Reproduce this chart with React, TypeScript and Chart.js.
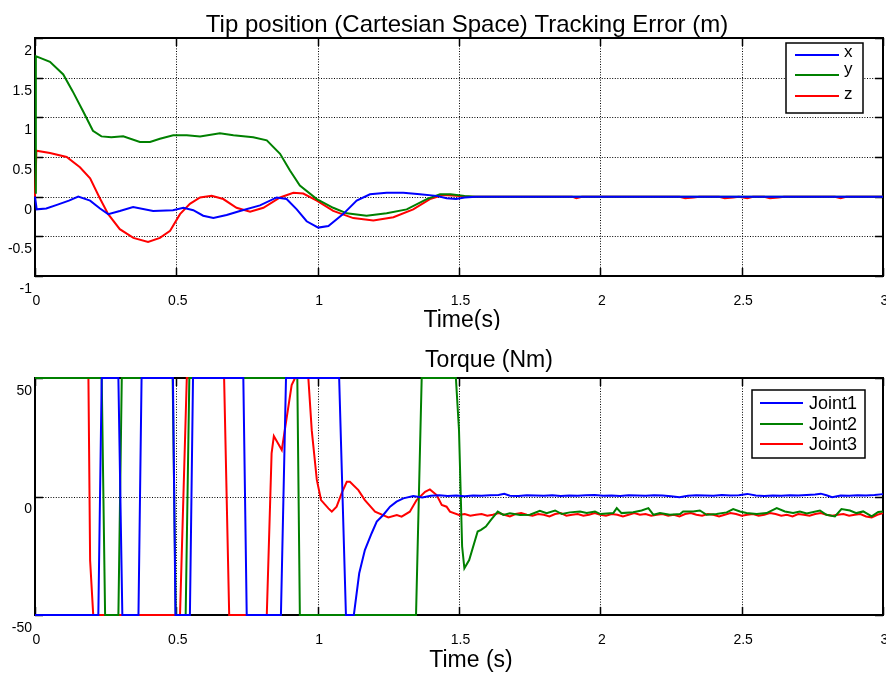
import React, { useEffect, useRef } from 'react';
import { Chart, registerables } from 'chart.js';

Chart.register(...registerables);

const FONT = '"Liberation Sans", Arial, Helvetica, sans-serif';

// ---------- Top plot: tip position tracking error (m) ----------
const tipXTime = [0, 0.006, 0.04, 0.08, 0.12, 0.153, 0.195, 0.23, 0.259, 0.3, 0.347, 0.418, 0.488, 0.525, 0.56, 0.595, 0.631, 0.678, 0.725, 0.796, 0.855, 0.89, 0.926, 0.961, 1.002, 1.038, 1.09, 1.138, 1.185, 1.244, 1.303, 1.362, 1.42, 1.456, 1.49, 1.52, 1.56, 3.0];
const tipXValues = [0.0, -0.16, -0.15, -0.1, -0.05, 0.0, -0.05, -0.15, -0.22, -0.18, -0.13, -0.18, -0.17, -0.14, -0.17, -0.24, -0.27, -0.23, -0.18, -0.11, -0.01, -0.03, -0.16, -0.31, -0.39, -0.37, -0.22, -0.05, 0.03, 0.05, 0.05, 0.03, 0.01, -0.02, -0.03, -0.01, 0.0, 0.0];

const tipYTime = [0, 0.003, 0.018, 0.053, 0.1, 0.133, 0.171, 0.205, 0.235, 0.27, 0.312, 0.371, 0.407, 0.442, 0.489, 0.537, 0.584, 0.654, 0.702, 0.772, 0.82, 0.867, 0.902, 0.937, 0.997, 1.055, 1.103, 1.173, 1.244, 1.315, 1.386, 1.433, 1.47, 1.52, 1.56, 3.0];
const tipYValues = [0.05, 1.77, 1.75, 1.7, 1.54, 1.33, 1.07, 0.83, 0.76, 0.75, 0.76, 0.69, 0.69, 0.73, 0.775, 0.775, 0.76, 0.8, 0.775, 0.75, 0.71, 0.54, 0.33, 0.14, -0.03, -0.14, -0.21, -0.24, -0.21, -0.16, -0.03, 0.03, 0.03, 0.01, 0.0, 0.0];

const tipZTime = [0, 0.005, 0.053, 0.112, 0.159, 0.195, 0.228, 0.259, 0.3, 0.348, 0.4, 0.442, 0.478, 0.513, 0.548, 0.584, 0.625, 0.666, 0.713, 0.761, 0.808, 0.867, 0.914, 0.949, 0.997, 1.055, 1.126, 1.197, 1.268, 1.338, 1.397, 1.444, 1.49, 1.53, 1.9, 1.915, 1.935, 2.28, 2.3, 2.33, 2.35, 2.42, 2.44, 2.47, 2.49, 2.52, 2.54, 2.58, 2.6, 2.63, 2.65, 2.83, 2.85, 2.87, 3.0];
const tipZValues = [0.0, 0.58, 0.55, 0.5, 0.37, 0.23, -0.01, -0.22, -0.41, -0.52, -0.57, -0.52, -0.43, -0.22, -0.09, -0.01, 0.01, -0.03, -0.14, -0.19, -0.14, -0.01, 0.05, 0.04, -0.05, -0.18, -0.27, -0.3, -0.26, -0.16, -0.03, 0.02, 0.01, 0.0, 0.0, -0.02, 0.0, 0.0, -0.02, -0.01, 0.0, 0.0, -0.02, -0.01, 0.0, -0.02, 0.0, 0.0, -0.02, -0.01, 0.0, 0.0, -0.02, 0.0, 0.0];

// ---------- Bottom plot: joint torques (Nm) ----------
const joint1Time = [0, 0.224, 0.236, 0.295, 0.309, 0.366, 0.377, 0.488, 0.497, 0.548, 0.559, 0.737, 0.749, 0.87, 0.888, 1.076, 1.1, 1.128, 1.147, 1.167, 1.191, 1.209, 1.232, 1.256, 1.279, 1.303, 1.338, 1.37, 1.4, 1.43, 1.46, 1.49, 1.52, 1.55, 1.58, 1.61, 1.64, 1.66, 1.68, 1.71, 1.74, 1.77, 1.8, 1.83, 1.86, 1.89, 1.92, 1.95, 1.98, 2.01, 2.04, 2.07, 2.1, 2.13, 2.16, 2.19, 2.22, 2.25, 2.28, 2.31, 2.34, 2.37, 2.4, 2.43, 2.46, 2.49, 2.52, 2.55, 2.58, 2.61, 2.64, 2.67, 2.7, 2.73, 2.76, 2.78, 2.8, 2.82, 2.85, 2.88, 2.91, 2.94, 2.97, 3.0];
const joint1Values = [-50, -50, 50, 50, -50, -50, 50, 50, -50, -50, 50, 50, -50, -50, 50, 50, -50, -50, -32.4, -22.6, -15.5, -10.6, -7.8, -4.3, -2.2, -0.8, 0.2, -0.4, 0.3, 0.5, 0.2, 0.4, 0.1, 0.4, 0.3, 0.5, 0.6, 1.1, 0.3, 0.2, 0.5, 0.4, 0.3, 0.5, 0.2, 0.4, 0.3, 0.5, 0.6, 0.3, 0.4, 0.2, 0.5, 0.4, 0.3, 0.5, 0.4, 0.1, -0.3, 0.3, 0.5, 0.4, 0.3, 0.6, 0.4, 0.5, 1.1, 0.4, 0.2, 0.4, 0.3, 0.5, 0.4, 0.6, 0.8, 1.2, 0.5, -0.3, 0.4, 0.3, 0.5, 0.4, 0.6, 1.0];

const joint2Time = [0, 0.236, 0.248, 0.295, 0.307, 0.487, 0.498, 0.533, 0.546, 0.928, 0.937, 1.348, 1.368, 1.489, 1.5, 1.511, 1.519, 1.536, 1.566, 1.578, 1.595, 1.613, 1.637, 1.657, 1.68, 1.716, 1.751, 1.786, 1.81, 1.84, 1.864, 1.892, 1.928, 1.952, 1.981, 2.0, 2.046, 2.058, 2.075, 2.116, 2.146, 2.17, 2.188, 2.211, 2.246, 2.282, 2.293, 2.329, 2.352, 2.376, 2.411, 2.447, 2.47, 2.494, 2.517, 2.553, 2.588, 2.624, 2.653, 2.682, 2.706, 2.73, 2.777, 2.8, 2.83, 2.853, 2.883, 2.906, 2.93, 2.96, 2.983, 3.0];
const joint2Values = [50, 50, -50, -50, 50, 50, -50, -50, 50, 50, -50, -50, 50, 50, 28, -21, -30.3, -26.8, -14.8, -14.1, -12.7, -9.9, -6.4, -7.8, -7.1, -7.8, -7.7, -6.0, -7.0, -5.9, -7.4, -6.7, -6.3, -7.0, -6.3, -7.4, -7.0, -4.9, -7.0, -6.6, -5.9, -4.9, -7.7, -7.0, -7.7, -7.4, -6.3, -6.3, -5.9, -7.7, -7.4, -6.7, -5.3, -6.3, -7.0, -7.4, -7.0, -4.9, -6.3, -7.0, -6.3, -7.2, -5.9, -7.7, -8.4, -5.3, -5.9, -7.0, -6.3, -8.4, -6.5, -6.3];

const joint3Time = [0, 0.189, 0.195, 0.206, 0.513, 0.537, 0.669, 0.687, 0.82, 0.837, 0.845, 0.873, 0.908, 0.92, 0.967, 0.979, 0.997, 1.012, 1.038, 1.05, 1.067, 1.085, 1.103, 1.114, 1.144, 1.167, 1.203, 1.25, 1.28, 1.297, 1.326, 1.35, 1.38, 1.397, 1.421, 1.439, 1.456, 1.468, 1.5, 1.52, 1.54, 1.56, 1.58, 1.6, 1.62, 1.64, 1.66, 1.68, 1.7, 1.72, 1.74, 1.76, 1.78, 1.8, 1.82, 1.84, 1.86, 1.88, 1.9, 1.92, 1.94, 1.96, 1.98, 2.0, 2.02, 2.04, 2.06, 2.08, 2.1, 2.12, 2.14, 2.16, 2.18, 2.2, 2.22, 2.24, 2.26, 2.28, 2.3, 2.32, 2.34, 2.36, 2.38, 2.4, 2.42, 2.44, 2.46, 2.48, 2.5, 2.52, 2.54, 2.56, 2.58, 2.6, 2.62, 2.64, 2.66, 2.68, 2.7, 2.72, 2.74, 2.76, 2.78, 2.8, 2.82, 2.84, 2.86, 2.88, 2.9, 2.92, 2.94, 2.96, 2.98, 3.0];
const joint3Values = [50, 50, -27, -50, -50, 50, 50, -50, -50, 18.2, 25.5, 19.6, 47, 50, 50, 28, 7, -1.5, -5, -6.4, -4.3, 1.4, 6.2, 6.2, 2.7, -1.5, -6.4, -8.8, -7.8, -8.5, -6.4, -1.5, 2, 3, 0.6, -3.6, -4.3, -6.4, -7.8, -7.4, -8.1, -7.7, -7.4, -8.1, -7.7, -7.0, -7.7, -8.4, -7.4, -7.0, -7.7, -8.1, -7.4, -7.7, -8.4, -7.4, -7.0, -8.1, -7.7, -7.4, -8.1, -7.7, -7.0, -7.7, -8.1, -7.4, -7.7, -8.4, -7.7, -7.0, -7.7, -7.4, -8.1, -7.7, -7.4, -8.1, -7.7, -8.4, -7.4, -7.0, -7.7, -8.1, -7.4, -7.7, -8.4, -7.7, -7.0, -7.4, -8.1, -7.7, -7.4, -8.1, -7.7, -7.0, -7.4, -8.1, -7.7, -8.4, -7.4, -7.7, -8.1, -7.4, -7.0, -7.7, -8.1, -7.7, -7.4, -8.1, -7.7, -7.4, -8.4, -8.8, -7.7, -7.0];

const topSeriesLabels = ['x', 'y', 'z'];
const bottomSeriesLabels = ['Joint1', 'Joint2', 'Joint3'];
const seriesColors = ['#0000ff', '#008000', '#ff0000'];
const timeTicks = { min: 0, max: 3, step: 0.5 };
const topYTicks = { min: -1, max: 2, step: 0.5 };
const bottomYTicks = { min: -50, max: 50, step: 50 };

const pts = (t: number[], v: number[]) => t.map((x, i) => ({ x, y: v[i] }));
const fmt = (v: any) => String(Math.round(Number(v) * 1000) / 1000);

type TextItem = { text: string; x: number; y: number; size: number };
type LegendCfg = { box: [number, number, number, number]; lineX: [number, number]; textX: number; rows: { lineY: number; textY: number }[]; size: number };

function makePlugins(texts: TextItem[], legend: LegendCfg) {
  const frame = {
    id: 'matlabFrame',
    beforeDatasetsDraw(chart: any) {
      const { ctx, chartArea: a, scales } = chart;
      const xs = scales.x;
      const ys = scales.y;
      ctx.save();
      ctx.strokeStyle = '#000';
      ctx.lineWidth = 1;
      ctx.setLineDash([1, 1.6]);
      xs.ticks.forEach((t: any) => {
        const px = Math.round(xs.getPixelForValue(t.value)) + 0.5;
        if (px > a.left + 3 && px < a.right - 3) {
          ctx.beginPath(); ctx.moveTo(px, a.top); ctx.lineTo(px, a.bottom); ctx.stroke();
        }
      });
      ys.ticks.forEach((t: any) => {
        const py = Math.round(ys.getPixelForValue(t.value)) + 0.5;
        if (py > a.top + 3 && py < a.bottom - 3) {
          ctx.beginPath(); ctx.moveTo(a.left, py); ctx.lineTo(a.right, py); ctx.stroke();
        }
      });
      ctx.setLineDash([]);
      ctx.lineWidth = 1.5;
      const tl = 8;
      xs.ticks.forEach((t: any) => {
        const px = Math.round(xs.getPixelForValue(t.value)) + 0.5;
        ctx.beginPath();
        ctx.moveTo(px, a.top); ctx.lineTo(px, a.top + tl);
        ctx.moveTo(px, a.bottom); ctx.lineTo(px, a.bottom - tl);
        ctx.stroke();
      });
      ys.ticks.forEach((t: any) => {
        const py = Math.round(ys.getPixelForValue(t.value)) + 0.5;
        ctx.beginPath();
        ctx.moveTo(a.left, py); ctx.lineTo(a.left + tl, py);
        ctx.moveTo(a.right, py); ctx.lineTo(a.right - tl, py);
        ctx.stroke();
      });
      ctx.lineWidth = 2;
      ctx.strokeRect(a.left, a.top, a.right - a.left, a.bottom - a.top);
      ctx.restore();
    },
    afterDatasetsDraw(chart: any) {
      const { ctx } = chart;
      const [bx, by, bw, bh] = legend.box;
      ctx.save();
      ctx.fillStyle = '#fff';
      ctx.fillRect(bx, by, bw, bh);
      ctx.strokeStyle = '#000';
      ctx.lineWidth = 1.5;
      ctx.strokeRect(bx, by, bw, bh);
      ctx.font = `${legend.size}px ${FONT}`;
      ctx.textAlign = 'left';
      ctx.textBaseline = 'alphabetic';
      chart.data.datasets.forEach((ds: any, i: number) => {
        const row = legend.rows[i];
        ctx.strokeStyle = ds.borderColor;
        ctx.lineWidth = 2;
        ctx.beginPath();
        ctx.moveTo(legend.lineX[0], row.lineY);
        ctx.lineTo(legend.lineX[1], row.lineY);
        ctx.stroke();
        ctx.fillStyle = '#000';
        ctx.fillText(ds.label, legend.textX, row.textY);
      });
      ctx.restore();
    },
    afterDraw(chart: any) {
      const { ctx } = chart;
      ctx.save();
      ctx.fillStyle = '#000';
      ctx.textAlign = 'center';
      ctx.textBaseline = 'alphabetic';
      texts.forEach((t) => {
        ctx.font = `${t.size}px ${FONT}`;
        ctx.fillText(t.text, t.x, t.y);
      });
      ctx.restore();
    },
  };
  return [frame];
}

function makeOptions(yt: { min: number; max: number; step: number }, padTop: number, xHeight: number): any {
  return {
    animation: false,
    responsive: false,
    maintainAspectRatio: false,
    devicePixelRatio: 1,
    events: [],
    layout: { padding: { left: 0, right: 3, top: padTop, bottom: 0 } },
    plugins: { legend: { display: false }, title: { display: false }, tooltip: { enabled: false } },
    elements: { point: { radius: 0 }, line: { tension: 0 } },
    scales: {
      x: {
        type: 'linear',
        min: timeTicks.min,
        max: timeTicks.max,
        ticks: {
          stepSize: timeTicks.step,
          autoSkip: false,
          maxRotation: 0,
          padding: 17,
          labelOffset: 1.5,
          color: '#000',
          font: { family: FONT, size: 14 },
          callback: fmt,
        },
        grid: { display: false, drawTicks: false },
        border: { display: false },
        afterFit: (s: any) => { s.height = xHeight; s.paddingLeft = 0; s.paddingRight = 0; },
      },
      y: {
        type: 'linear',
        min: yt.min,
        max: yt.max,
        ticks: {
          stepSize: yt.step,
          autoSkip: false,
          padding: 3,
          labelOffset: 13,
          color: '#000',
          font: { family: FONT, size: 14 },
          callback: fmt,
        },
        grid: { display: false, drawTicks: false },
        border: { display: false },
        afterFit: (s: any) => { s.width = 35; s.paddingTop = 0; s.paddingBottom = 0; },
      },
    },
  };
}

function makeDatasets(labels: string[], series: { x: number; y: number }[][], width: number) {
  return series.map((data, i) => ({
    label: labels[i],
    data,
    borderColor: seriesColors[i],
    backgroundColor: seriesColors[i],
    borderWidth: width,
    pointRadius: 0,
    fill: false,
    clip: 3,
  }));
}

export default function App() {
  const topRef = useRef<HTMLCanvasElement>(null);
  const botRef = useRef<HTMLCanvasElement>(null);

  useEffect(() => {
    const top = new Chart(topRef.current as HTMLCanvasElement, {
      type: 'line',
      data: {
        datasets: makeDatasets(topSeriesLabels, [pts(tipXTime, tipXValues), pts(tipYTime, tipYValues), pts(tipZTime, tipZValues)], 2) as any,
      },
      options: makeOptions(topYTicks, 38, 54),
      plugins: makePlugins(
        [
          { text: 'Tip position (Cartesian Space) Tracking Error (m)', x: 467, y: 32, size: 24 },
          { text: 'Time(s)', x: 462, y: 327, size: 23 },
        ],
        {
          box: [786, 43, 77, 70],
          lineX: [795, 839],
          textX: 844,
          rows: [{ lineY: 55, textY: 57 }, { lineY: 75, textY: 74 }, { lineY: 96, textY: 99 }],
          size: 17,
        }
      ) as any,
    });
    const bot = new Chart(botRef.current as HTMLCanvasElement, {
      type: 'line',
      data: {
        datasets: makeDatasets(bottomSeriesLabels, [pts(joint1Time, joint1Values), pts(joint2Time, joint2Values), pts(joint3Time, joint3Values)], 2) as any,
      },
      options: makeOptions(bottomYTicks, 48, 60),
      plugins: makePlugins(
        [
          { text: 'Torque (Nm)', x: 489, y: 37, size: 23 },
          { text: 'Time (s)', x: 471, y: 337, size: 23 },
        ],
        {
          box: [752, 60, 113, 68],
          lineX: [760, 803],
          textX: 809,
          rows: [{ lineY: 73, textY: 79 }, { lineY: 94, textY: 100 }, { lineY: 114, textY: 120 }],
          size: 18,
        }
      ) as any,
    });
    return () => { top.destroy(); bot.destroy(); };
  }, []);

  return (
    <div style={{ position: 'fixed', left: 0, top: 0, width: 886, height: 675, background: '#fff' }}>
      <canvas ref={topRef} width={886} height={330} style={{ position: 'absolute', left: 0, top: 0, width: 886, height: 330 }} />
      <canvas ref={botRef} width={886} height={345} style={{ position: 'absolute', left: 0, top: 330, width: 886, height: 345 }} />
    </div>
  );
}
